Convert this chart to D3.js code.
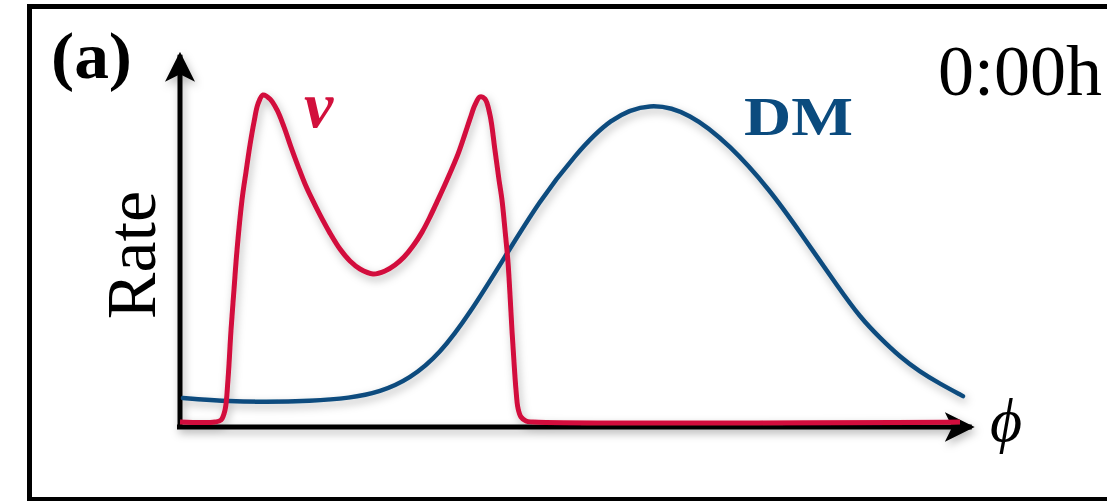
<!DOCTYPE html>
<html><head><meta charset="utf-8">
<script src="https://cdn.jsdelivr.net/npm/d3@7"></script>
<style>html,body{margin:0;padding:0;background:#fff;overflow:hidden}</style>
</head><body>
<svg id="chart" width="1107" height="501"></svg>
<script>
// Data (phi in [0,1], rate in [0,1])
const nuPhi = [0.000,0.0449,0.0526,0.0577,0.0615,0.0654,0.0692,0.0731,0.0795,0.0846,0.0897,0.0949,0.1000,0.1064,0.1154,0.1244,0.1333,0.1423,0.1513,0.1603,0.1692,0.1795,0.1923,0.2051,0.2179,0.2308,0.2474,0.2628,0.2756,0.2872,0.2987,0.3103,0.3205,0.3295,0.3423,0.3564,0.3654,0.3718,0.3782,0.3846,0.3910,0.3974,0.4038,0.4090,0.4128,0.4167,0.4205,0.4231,0.4256,0.4282,0.4308,0.4333,0.4372,0.4436,0.4526,1.000];
const nuRate = [0.015,0.015,0.021,0.051,0.142,0.292,0.413,0.533,0.684,0.768,0.849,0.919,0.973,1.000,0.988,0.955,0.904,0.843,0.786,0.732,0.687,0.639,0.584,0.536,0.500,0.476,0.461,0.470,0.488,0.512,0.545,0.587,0.633,0.678,0.744,0.822,0.883,0.928,0.970,0.994,0.988,0.940,0.834,0.744,0.684,0.593,0.497,0.398,0.292,0.196,0.111,0.057,0.030,0.018,0.015,0.015];
const dmPhi = [0.0038,0.0513,0.1115,0.1667,0.2179,0.2564,0.2949,0.3333,0.3718,0.4141,0.4615,0.5064,0.5513,0.6026,0.6538,0.7051,0.7564,0.7949,0.8462,0.8718,0.8974,0.9231,0.9487,0.9744,1.0038];
const dmRate = [0.087,0.078,0.075,0.078,0.087,0.105,0.145,0.220,0.343,0.503,0.684,0.819,0.931,0.979,0.946,0.849,0.714,0.587,0.413,0.331,0.268,0.211,0.166,0.130,0.093];
const labels = {panel:"(a)", time:"0:00h", y:"Rate", x:"\u03d5", nu:"\u03bd", dm:"DM"};

const svg = d3.select("#chart");
const x = d3.scaleLinear().domain([0,1]).range([180,960]);
const y = d3.scaleLinear().domain([0,1]).range([427,95]);
const red = "#d2103c", blue = "#0b4b7e";

const defs = svg.append("defs");
const f = defs.append("filter").attr("id","sh").attr("x","-10%").attr("y","-10%").attr("width","130%").attr("height","130%");
f.append("feDropShadow").attr("dx",2).attr("dy",4).attr("stdDeviation",4).attr("flood-color","#000").attr("flood-opacity",0.28);
defs.append("marker").attr("id","arr").attr("viewBox","0 0 10 10").attr("refX",9).attr("refY",5)
  .attr("markerWidth",6).attr("markerHeight",6).attr("markerUnits","strokeWidth").attr("orient","auto")
  .append("path").attr("d","M0,0 L10,5 L0,10 L2.5,5 Z").attr("fill","#000");

// frame
svg.append("rect").attr("x",29.5).attr("y",6.5).attr("width",1200).attr("height",493).attr("fill","none").attr("stroke","#000").attr("stroke-width",5);

const g = svg.append("g").attr("filter","url(#sh)");
// axes
g.append("line").attr("x1",x(0)).attr("y1",y(0)).attr("x2",x(0)).attr("y2",y(1.13)+3).attr("stroke","#000").attr("stroke-width",5).attr("marker-end","url(#arr)");
g.append("line").attr("x1",x(0)-3).attr("y1",y(0)).attr("x2",x(1.015)).attr("y2",y(0)).attr("stroke","#000").attr("stroke-width",5).attr("marker-end","url(#arr)");

const cr = d3.line().curve(d3.curveCatmullRom.alpha(0.5));
const bs = d3.line().curve(d3.curveBasis);
g.append("path").attr("d", bs(dmPhi.map((p,i)=>[x(p), y(dmRate[i])])))
  .attr("fill","none").attr("stroke",blue).attr("stroke-width",4.5).attr("stroke-linecap","round");
g.append("path").attr("d", cr(nuPhi.map((p,i)=>[x(p), y(nuRate[i])])))
  .attr("fill","none").attr("stroke",red).attr("stroke-width",5).attr("stroke-linejoin","round");

const serif = "'Liberation Serif','DejaVu Serif',serif";
svg.append("text").attr("x",51).attr("y",78).attr("font-family",serif).attr("font-weight","bold").attr("font-size",66).attr("textLength",81).attr("lengthAdjust","spacingAndGlyphs").text(labels.panel);
svg.append("text").attr("x",1102).attr("y",95).attr("text-anchor","end").attr("font-family",serif).attr("font-size",72).text(labels.time);
svg.append("text").attr("transform","translate(155,255) rotate(-90)").attr("text-anchor","middle").attr("font-family",serif).attr("font-size",70).text(labels.y);
svg.append("text").attr("x",990).attr("y",441).attr("font-family",serif).attr("font-style","italic").attr("font-size",62).text(labels.x);
svg.append("text").attr("x",304).attr("y",127).attr("font-family",serif).attr("font-style","italic").attr("font-weight","bold").attr("font-size",66).attr("fill",red).text(labels.nu);
svg.append("text").attr("x",744).attr("y",135).attr("font-family",serif).attr("font-weight","bold").attr("font-size",55).attr("textLength",109).attr("lengthAdjust","spacingAndGlyphs").attr("fill",blue).text(labels.dm);
</script>
</body></html>
